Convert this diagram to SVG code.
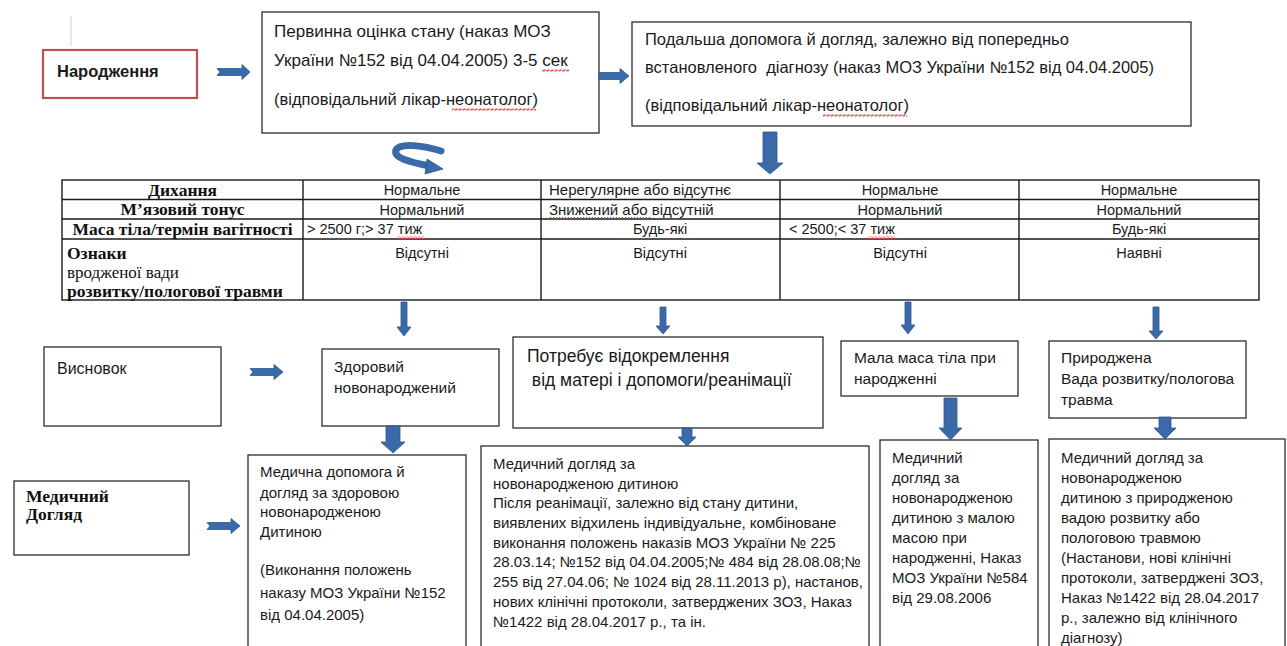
<svg xmlns="http://www.w3.org/2000/svg" width="1287" height="646" viewBox="0 0 1287 646">
<defs>
<style>
.box{fill:#fff;stroke:#2b2b2b;stroke-width:1.3}
.red{fill:#fff;stroke:#c0504d;stroke-width:2.2}
.t{font-family:"Liberation Sans",Arial,sans-serif;fill:#1a1a1a}
.top{font-size:16.5px}
.tb{font-size:14.5px}
.mid{font-size:15.5px}
.bot{font-size:15px}
.big{font-size:17.5px}
.hd{font-family:"Liberation Serif","Times New Roman",serif;font-weight:bold;font-size:17.5px;fill:#111}
.hr{font-family:"Liberation Serif","Times New Roman",serif;font-size:17px;fill:#111}
.arr{fill:#3b6aa8;stroke:#2d5890;stroke-width:0.8}
.grid{stroke:#1a1a1a;stroke-width:1.4;fill:none}
.dot{stroke:#d04040;stroke-width:1;stroke-dasharray:1 2;fill:none}
</style>
<pattern id="wave" width="4" height="3" patternUnits="userSpaceOnUse">
<path d="M0 2.5 L1 0.5 L3 2.5 L4 0.5" fill="none" stroke="#e03a3a" stroke-width="0.9"/>
</pattern>
</defs>
<rect width="1287" height="646" fill="#fff"/>
<line x1="71" y1="16" x2="71" y2="46" stroke="#cfcfcf" stroke-width="1"/>

<g id="n-birth">
<rect class="red" x="43" y="50" width="154" height="48"/>
<text class="t top" x="57" y="77" font-weight="bold">Народження</text>
</g>

<g id="n-initial">
<rect class="box" x="262" y="12" width="337" height="121"/>
<text class="t" x="274" y="37" font-size="17px">Первинна оцінка стану (наказ МОЗ</text>
<text class="t" x="274" y="66" font-size="17px">України №152 від 04.04.2005) 3-5 сек</text>
<text class="t top" x="274" y="105">(відповідальний лікар-неонатолог)</text>
</g>

<g id="n-further">
<rect class="box" x="632" y="22" width="559" height="104"/>
<text class="t top" x="645" y="45">Подальша допомога й догляд, залежно від попередньо</text>
<text class="t top" x="645" y="73" xml:space="preserve">встановленого  діагнозу (наказ МОЗ України №152 від 04.04.2005)</text>
<text class="t top" x="645" y="111">(відповідальний лікар-неонатолог)</text>
</g>

<g id="n-table">
<rect class="grid" x="62" y="180" width="1197" height="120"/>
<line class="grid" x1="62" y1="199.5" x2="1259" y2="199.5"/>
<line class="grid" x1="62" y1="219" x2="1259" y2="219"/>
<line class="grid" x1="62" y1="239" x2="1259" y2="239"/>
<line class="grid" x1="303" y1="180" x2="303" y2="300"/>
<line class="grid" x1="541" y1="180" x2="541" y2="300"/>
<line class="grid" x1="780" y1="180" x2="780" y2="300"/>
<line class="grid" x1="1019" y1="180" x2="1019" y2="300"/>
<text class="hd" x="182.5" y="195.5" text-anchor="middle">Дихання</text>
<text class="hd" x="182.5" y="215" text-anchor="middle">М’язовий тонус</text>
<text class="hd" x="182.5" y="234.5" text-anchor="middle">Маса тіла/термін вагітності</text>
<text class="hd" x="67" y="259">Ознаки</text>
<text class="hr" x="67" y="278">вродженої вади</text>
<text class="hd" x="67" y="297">розвитку/пологової травми</text>
<text class="t tb" x="422" y="195" text-anchor="middle">Нормальне</text>
<text class="t tb" x="422" y="214.5" text-anchor="middle">Нормальний</text>
<text class="t tb" x="307" y="234">&gt; 2500 г;&gt; 37 тиж</text>
<text class="t tb" x="422" y="258" text-anchor="middle">Відсутні</text>
<text class="t" x="549" y="195" font-size="15px">Нерегулярне або відсутнє</text>
<text class="t" x="549" y="214.5" font-size="15px">Знижений або відсутній</text>
<line class="dot" x1="550" y1="217.5" x2="650" y2="217.5"/>
<text class="t tb" x="660" y="234" text-anchor="middle">Будь-які</text>
<text class="t tb" x="660" y="258" text-anchor="middle">Відсутні</text>
<text class="t tb" x="900" y="195" text-anchor="middle">Нормальне</text>
<text class="t tb" x="900" y="214.5" text-anchor="middle">Нормальний</text>
<text class="t tb" x="789" y="234">&lt; 2500;&lt; 37 тиж</text>
<text class="t tb" x="900" y="258" text-anchor="middle">Відсутні</text>
<text class="t tb" x="1139" y="195" text-anchor="middle">Нормальне</text>
<text class="t tb" x="1139" y="214.5" text-anchor="middle">Нормальний</text>
<text class="t tb" x="1139" y="234" text-anchor="middle">Будь-які</text>
<text class="t tb" x="1139" y="258" text-anchor="middle">Наявні</text>
</g>

<g id="n-conclusion">
<rect class="box" x="44" y="347" width="177" height="79"/>
<text class="t" x="57" y="374" font-size="16px">Висновок</text>
</g>
<g id="n-healthy">
<rect class="box" x="322" y="349" width="177" height="77"/>
<text class="t mid" x="334" y="372">Здоровий</text>
<text class="t mid" x="334" y="393">новонароджений</text>
</g>
<g id="n-separation">
<rect class="box" x="513" y="337" width="310" height="91"/>
<text class="t big" x="527" y="362">Потребує відокремлення</text>
<text class="t big" x="527" y="386" xml:space="preserve"> від матері і допомоги/реанімації</text>
</g>
<g id="n-lowweight">
<rect class="box" x="841" y="341" width="177" height="55"/>
<text class="t mid" x="854" y="363">Мала маса тіла при</text>
<text class="t mid" x="854" y="384">народженні</text>
</g>
<g id="n-congenital">
<rect class="box" x="1049" y="341" width="197" height="77"/>
<text class="t mid" x="1061" y="363">Природжена</text>
<text class="t mid" x="1061" y="384">Вада розвитку/пологова</text>
<text class="t mid" x="1061" y="405">травма</text>
</g>

<g id="n-care">
<rect class="box" x="14" y="481" width="175" height="74"/>
<text class="hd" x="26" y="502" font-size="16px">Медичний</text>
<text class="hd" x="26" y="520" font-size="16px">Догляд</text>
</g>
<g id="n-care-healthy">
<rect class="box" x="248" y="455" width="218" height="210"/>
<text class="t bot" x="260" y="477">Медична допомога й</text>
<text class="t bot" x="260" y="498">догляд за здоровою</text>
<text class="t bot" x="260" y="517">новонародженою</text>
<text class="t bot" x="260" y="537">Дитиною</text>
<text class="t bot" x="260" y="575">(Виконання положень</text>
<text class="t bot" x="260" y="598">наказу МОЗ України №152</text>
<text class="t bot" x="260" y="620">від 04.04.2005)</text>
</g>
<g id="n-care-resus">
<rect class="box" x="481" y="446" width="388" height="220"/>
<text class="t bot" x="493" y="469">Медичний догляд за</text>
<text class="t bot" x="493" y="489">новонародженою дитиною</text>
<text class="t bot" x="493" y="508">Після реанімації, залежно від стану дитини,</text>
<text class="t bot" x="493" y="528">виявлених відхилень індивідуальне, комбіноване</text>
<text class="t bot" x="493" y="548">виконання положень наказів МОЗ України № 225</text>
<text class="t bot" x="493" y="567">28.03.14; №152 від 04.04.2005;№ 484 від 28.08.08;№</text>
<text class="t bot" x="493" y="587">255 від 27.04.06; № 1024 від 28.11.2013 р), настанов,</text>
<text class="t bot" x="493" y="607">нових клінічні протоколи, затверджених ЗОЗ, Наказ</text>
<text class="t bot" x="493" y="627">№1422 від 28.04.2017 р., та ін.</text>
</g>
<g id="n-care-lowweight">
<rect class="box" x="880" y="440" width="158" height="225"/>
<text class="t bot" x="892" y="463">Медичний</text>
<text class="t bot" x="892" y="483">догляд за</text>
<text class="t bot" x="892" y="503">новонародженою</text>
<text class="t bot" x="892" y="523">дитиною з малою</text>
<text class="t bot" x="892" y="543">масою при</text>
<text class="t bot" x="892" y="563">народженні, Наказ</text>
<text class="t bot" x="892" y="583">МОЗ України №584</text>
<text class="t bot" x="892" y="603">від 29.08.2006</text>
</g>
<g id="n-care-congenital">
<rect class="box" x="1049" y="439" width="236" height="226"/>
<text class="t bot" x="1061" y="463">Медичний догляд за</text>
<text class="t bot" x="1061" y="483">новонародженою</text>
<text class="t bot" x="1061" y="503">дитиною з природженою</text>
<text class="t bot" x="1061" y="523">вадою розвитку або</text>
<text class="t bot" x="1061" y="543">пологовою травмою</text>
<text class="t bot" x="1061" y="563">(Настанови, нові клінічні</text>
<text class="t bot" x="1061" y="583">протоколи, затверджені ЗОЗ,</text>
<text class="t bot" x="1061" y="603">Наказ №1422 від 28.04.2017</text>
<text class="t bot" x="1061" y="623">р., залежно від клінічного</text>
<text class="t bot" x="1061" y="643">діагнозу)</text>
</g>

<g id="spellmarks">
<rect x="542" y="69" width="27" height="3" fill="url(#wave)"/>
<rect x="452" y="108" width="84" height="3" fill="url(#wave)"/>
<rect x="823" y="114" width="84" height="3" fill="url(#wave)"/>
<rect x="397" y="236" width="27" height="3" fill="url(#wave)"/>
<rect x="868" y="236" width="27" height="3" fill="url(#wave)"/>
</g>

<g id="connectors">
<polygon class="arr" points="217,68.5 242,68.5 242,64.5 250,72 242,79.5 242,75.5 217,75.5 220,72"/>
<polygon class="arr" points="599,72.5 620,72.5 620,68.5 629,76 620,83.5 620,79.5 599,79.5"/>
<path d="M441 151 C 425 146, 400 142, 396 150 C 393 158, 410 162, 429 166" fill="none" stroke="#3b6aa8" stroke-width="7" stroke-linecap="round"/>
<polygon class="arr" points="427,159 443,169 425,174"/>
<polygon class="arr" points="763,132 777,132 777,163 783,163 770,174 757,163 763,163"/>
<polygon class="arr" points="401,302 407,302 407,327 411,327 404,336 397,327 401,327"/>
<polygon class="arr" points="660,307 666,307 666,326 670,326 663,334 656,326 660,326"/>
<polygon class="arr" points="905,302 911,302 911,325 915,325 908,334 901,325 905,325"/>
<polygon class="arr" points="1153,307 1159,307 1159,331 1163,331 1156,339 1149,331 1153,331"/>
<polygon class="arr" points="250,368.5 274,368.5 274,364.5 283,372 274,379.5 274,375.5 250,375.5 253,372"/>
<polygon class="arr" points="386,426 400,426 400,442 405,442 393,453 381,442 386,442"/>
<polygon class="arr" points="682,428 692,428 692,437 696,437 687,446 678,437 682,437"/>
<polygon class="arr" points="944,398 957,398 957,428 962,428 950.5,440 939,428 944,428"/>
<polygon class="arr" points="1159,417 1171,417 1171,428 1176,428 1165,439 1154,428 1159,428"/>
<polygon class="arr" points="207,522.5 231,522.5 231,518.5 240,526 231,533.5 231,529.5 207,529.5 210,526"/>
</g>
</svg>
